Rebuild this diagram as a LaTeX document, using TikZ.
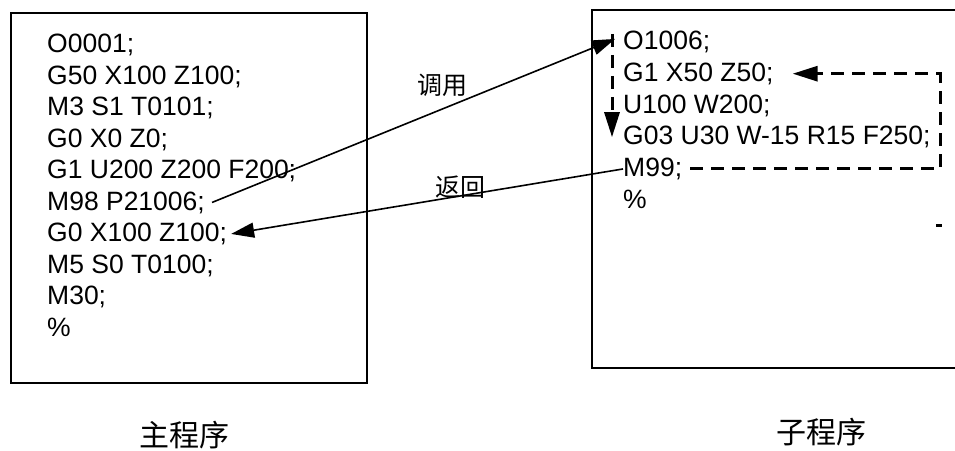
\documentclass[tikz,border=0pt]{standalone}
\usepackage{fontspec}
\setmainfont{Liberation Sans}
\newfontfamily\cjk{Noto Sans CJK SC}
\usetikzlibrary{arrows.meta,positioning,calc}
\definecolor{ink}{HTML}{000000}

\tikzset{
  codeline/.style={anchor=base west,inner sep=0pt,font=\fontsize{26.5}{30}\selectfont},
  panel/.style={draw=ink,line width=1.5pt},
  flow/.style={draw=ink,line width=1.6pt,-{Triangle[length=23pt,width=15pt]}},
  backflow/.style={draw=ink,line width=3pt,dash pattern=on 13pt off 8pt,
                   -{Triangle[length=25pt,width=15pt]}},
  tag/.style={font=\cjk\fontsize{25}{28}\selectfont,inner sep=0pt},
  caption/.style={font=\cjk\fontsize{30}{32}\selectfont,inner sep=0pt}
}

\begin{document}
\begin{tikzpicture}[x=1pt,y=-1pt]
  \useasboundingbox (0,0) rectangle (955,450);

  % the two program panels
  \draw[panel] (11,13) rectangle (367,383);
  \draw[panel] (955,10) -- (592,10) -- (592,368) -- (955,368);

  % main program
  \foreach \txt [count=\i] in {O0001;,G50 X100 Z100;,M3 S1 T0101;,G0 X0 Z0;,
      G1 U200 Z200 F200;,M98 P21006;,G0 X100 Z100;,M5 S0 T0100;,M30;,\%}
    \node[codeline] (m\i) at (47,{52.5+31.5*(\i-1)}) {\txt};

  % subprogram
  \foreach \txt [count=\i] in {O1006;,G1 X50 Z50;,U100 W200;,
      G03 U30 W-15 R15 F250;,M99;,\%}
    \node[codeline] (s\i) at (623,{49.5+31.75*(\i-1)}) {\txt};

  % call and return
  \draw[flow] ([xshift=7pt]m6.east) -- ([xshift=-8pt,yshift=3pt]s1.west);
  \draw[flow] (s5.west) -- ([xshift=4pt]m7.east);
  \node[tag] (calltag) at (442,85) {调用};
  \node[tag] (rettag) at (460,187) {返回};

  % run through the subprogram
  \draw[backflow] ([xshift=-11pt,yshift=8pt]s1.west) -- ([xshift=-11pt]s4.west);
  \coordinate (loopedge) at (940,0);
  \coordinate (retstart) at ([xshift=8pt]s5.east);
  \coordinate (retend) at ([xshift=19pt]s2.east);
  \draw[backflow] (retstart) -- (retstart -| loopedge) -- (retend -| loopedge) -- (retend);
  \draw[ink,line width=3pt] (936,225) -- (942,225);

  % captions
  \node[caption] (maincap) at (184,435) {主程序};
  \node[caption] (subcap) at (821,432) {子程序};
\end{tikzpicture}
\end{document}
